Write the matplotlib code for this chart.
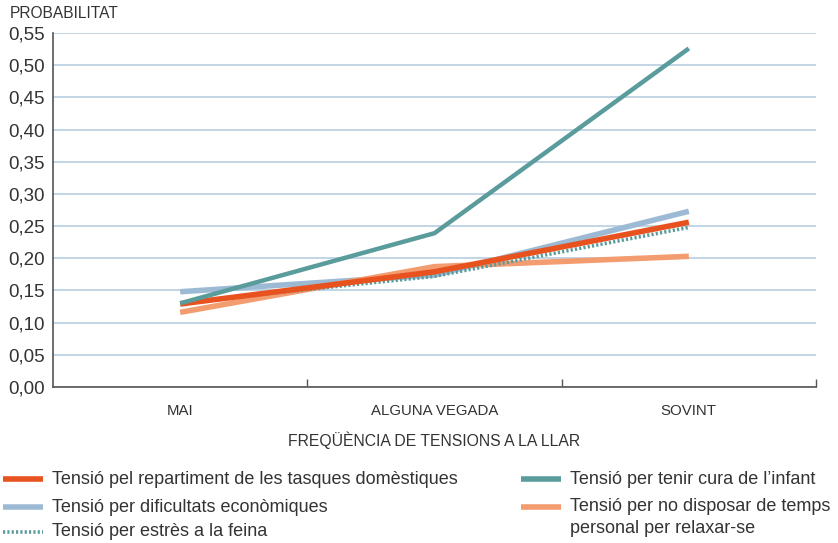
import numpy as np
import matplotlib
matplotlib.use("Agg")
import matplotlib.pyplot as plt
from matplotlib.lines import Line2D
from matplotlib.ticker import FuncFormatter

plt.rcParams['font.family'] = ['Liberation Sans', 'DejaVu Sans']

# dades
categories = ['MAI', 'ALGUNA VEGADA', 'SOVINT']
domestiques = [0.129, 0.179, 0.256]
economiques = [0.148, 0.174, 0.273]
feina = [0.131, 0.172, 0.248]
infant = [0.130, 0.239, 0.526]
temps = [0.116, 0.187, 0.203]

labels = ['Tensió pel repartiment de les tasques domèstiques',
          'Tensió per dificultats econòmiques',
          'Tensió per estrès a la feina',
          'Tensió per tenir cura de l\u2019infant',
          'Tensió per no disposar de temps\npersonal per relaxar-se']

c_red = '#e8521f'
c_blue = '#9dbad5'
c_teal = '#5a9b9c'
c_orange = '#f39c70'
txt = '#333333'

fig = plt.figure(figsize=(8.38, 5.43), dpi=100)
ax = fig.add_axes([53/838, 1-387/543, (816-53)/838, (387-33)/543])

x = np.arange(len(categories))
ax.plot(x, economiques, color=c_blue, lw=4, solid_capstyle='butt', zorder=2)
ax.plot(x, temps, color=c_orange, lw=4, solid_capstyle='butt', zorder=3)
ax.plot(x, feina, color=c_teal, lw=2.6, ls=(0, (0.6, 0.6)), zorder=4)
ax.plot(x, domestiques, color=c_red, lw=4, solid_capstyle='butt', zorder=5)
ax.plot(x, infant, color=c_teal, lw=3.2, solid_capstyle='butt', zorder=6)

ax.set_xlim(-0.5, 2.5)
ax.set_ylim(0, 0.55)
ax.set_yticks(np.arange(0, 0.551, 0.05))
ax.yaxis.set_major_formatter(FuncFormatter(lambda v, p: f'{v:.2f}'.replace('.', ',')))
ax.tick_params(axis='y', length=0, pad=6, labelsize=13.5, labelcolor=txt)
ax.grid(axis='y', color='#bcd2e4', lw=1.3, zorder=0)

ax.set_xticks(x)
ax.set_xticklabels(categories)
ax.set_xticks([0.5, 1.5, 2.5], minor=True)
ax.tick_params(axis='x', which='major', length=0, pad=12, labelsize=10.8, labelcolor=txt)
ax.tick_params(axis='x', which='minor', direction='in', length=6, width=1, color='#555555')
ax.set_xlabel('FREQÜÈNCIA DE TENSIONS A LA LLAR', fontsize=11.3, color=txt, labelpad=10)

for s in ['top', 'right']:
    ax.spines[s].set_visible(False)
for s in ['left', 'bottom']:
    ax.spines[s].set_color('#555555')
    ax.spines[s].set_linewidth(1.2)
ax.set_axisbelow(True)

fig.text(10/838, 1-13/543, 'PROBABILITAT', fontsize=11.2, color=txt, va='center', ha='left')

# llegenda
leg = [(3, 479, c_red, '-', labels[0]),
       (3, 507, c_blue, '-', labels[1]),
       (3, 532, c_teal, ':', labels[2]),
       (521, 479, c_teal, '-', labels[3]),
       (521, 507, c_orange, '-', labels[4])]
for lx, ly, col, st, lab in leg:
    yy = 1 - ly/543
    if st == ':':
        fig.add_artist(Line2D([lx/838, (lx+40)/838], [yy, yy], color=col, lw=2.6,
                              ls=(0, (0.6, 0.6)), transform=fig.transFigure))
    else:
        fig.add_artist(Line2D([lx/838, (lx+40)/838], [yy, yy], color=col, lw=4,
                              solid_capstyle='butt', transform=fig.transFigure))
    if '\n' in lab:
        fig.text((lx+49)/838, yy + 9/543, lab, fontsize=13, color=txt, va='top', ha='left',
                 linespacing=1.4)
    else:
        fig.text((lx+49)/838, yy, lab, fontsize=13, color=txt, va='center', ha='left')

fig.savefig('out.png', dpi=100)
